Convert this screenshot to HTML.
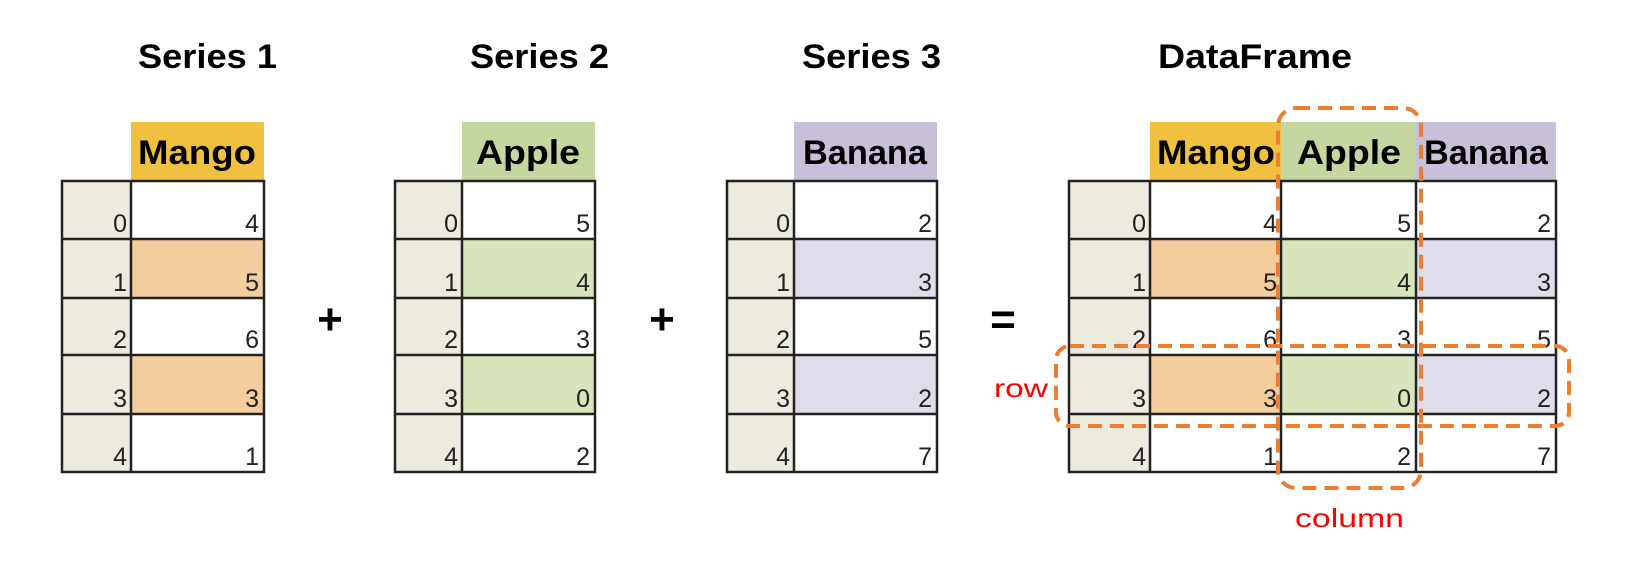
<!DOCTYPE html>
<html><head><meta charset="utf-8"><style>
html,body{margin:0;padding:0;background:#fff;width:1628px;height:561px;overflow:hidden}
svg{display:block}
text{font-family:"Liberation Sans",sans-serif}
</style></head><body>
<svg width="1628" height="561" viewBox="0 0 1628 561" xmlns="http://www.w3.org/2000/svg">
<g font-weight="bold" font-size="34" fill="#000">
<text x="138" y="68" textLength="139" lengthAdjust="spacingAndGlyphs">Series 1</text>
<text x="470" y="68" textLength="139" lengthAdjust="spacingAndGlyphs">Series 2</text>
<text x="802" y="68" textLength="139" lengthAdjust="spacingAndGlyphs">Series 3</text>
<text x="1158" y="68" textLength="194" lengthAdjust="spacingAndGlyphs">DataFrame</text>
</g>
<!-- operators -->
<g font-weight="bold" font-size="44" fill="#000" text-anchor="middle">
<text x="330" y="334">+</text>
<text x="662" y="334">+</text>
<text x="1003" y="334">=</text>
</g>

<!-- Series 1 -->
<rect x="131" y="122" width="133" height="59" fill="#f0c040"/>
<rect x="62" y="181" width="69" height="291" fill="#edeae0"/>
<rect x="131" y="239" width="133" height="59" fill="#f3cd9e"/>
<rect x="131" y="355" width="133" height="59" fill="#f3cd9e"/>
<!-- Series 2 -->
<rect x="462" y="122" width="133" height="59" fill="#c5d6a0"/>
<rect x="395" y="181" width="67" height="291" fill="#edeae0"/>
<rect x="462" y="239" width="133" height="59" fill="#d8e4bc"/>
<rect x="462" y="355" width="133" height="59" fill="#d8e4bc"/>
<!-- Series 3 -->
<rect x="794" y="122" width="143" height="59" fill="#c8bfd9"/>
<rect x="727" y="181" width="67" height="291" fill="#edeae0"/>
<rect x="794" y="239" width="143" height="59" fill="#e1dcea"/>
<rect x="794" y="355" width="143" height="59" fill="#e1dcea"/>
<!-- DataFrame -->
<rect x="1150" y="122" width="131" height="59" fill="#f0c040"/>
<rect x="1281" y="122" width="135" height="59" fill="#c5d6a0"/>
<rect x="1416" y="122" width="140" height="59" fill="#c8bfd9"/>
<rect x="1069" y="181" width="81" height="291" fill="#edeae0"/>
<rect x="1150" y="239" width="131" height="59" fill="#f3cd9e"/>
<rect x="1150" y="355" width="131" height="59" fill="#f3cd9e"/>
<rect x="1281" y="239" width="135" height="59" fill="#d8e4bc"/>
<rect x="1281" y="355" width="135" height="59" fill="#d8e4bc"/>
<rect x="1416" y="239" width="140" height="59" fill="#e1dcea"/>
<rect x="1416" y="355" width="140" height="59" fill="#e1dcea"/>

<!-- grid lines -->
<g stroke="#222" stroke-width="2.5" fill="none">
<rect x="62" y="181" width="202" height="291"/>
<line x1="131" y1="181" x2="131" y2="472"/>
<rect x="395" y="181" width="200" height="291"/>
<line x1="462" y1="181" x2="462" y2="472"/>
<rect x="727" y="181" width="210" height="291"/>
<line x1="794" y1="181" x2="794" y2="472"/>
<rect x="1069" y="181" width="487" height="291"/>
<line x1="1150" y1="181" x2="1150" y2="472"/>
<line x1="1281" y1="181" x2="1281" y2="472"/>
<line x1="1416" y1="181" x2="1416" y2="472"/>
<path d="M62 239H264M62 298H264M62 355H264M62 414H264"/>
<path d="M395 239H595M395 298H595M395 355H595M395 414H595"/>
<path d="M727 239H937M727 298H937M727 355H937M727 414H937"/>
<path d="M1069 239H1556M1069 298H1556M1069 355H1556M1069 414H1556"/>
</g>

<!-- headers -->
<g font-weight="bold" font-size="34" fill="#000" text-anchor="middle">
<text x="197" y="164" textLength="118" lengthAdjust="spacingAndGlyphs">Mango</text>
<text x="528" y="164" textLength="104" lengthAdjust="spacingAndGlyphs">Apple</text>
<text x="865" y="164" textLength="124" lengthAdjust="spacingAndGlyphs">Banana</text>
<text x="1216" y="164" textLength="118" lengthAdjust="spacingAndGlyphs">Mango</text>
<text x="1349" y="164" textLength="104" lengthAdjust="spacingAndGlyphs">Apple</text>
<text x="1486" y="164" textLength="124" lengthAdjust="spacingAndGlyphs">Banana</text>
</g>

<!-- numbers -->
<g font-size="25" fill="#222" text-anchor="end">
<text x="127" y="232">0</text><text x="127" y="291">1</text><text x="127" y="348">2</text><text x="127" y="407">3</text><text x="127" y="465">4</text>
<text x="259" y="232">4</text><text x="259" y="291">5</text><text x="259" y="348">6</text><text x="259" y="407">3</text><text x="259" y="465">1</text>

<text x="458" y="232">0</text><text x="458" y="291">1</text><text x="458" y="348">2</text><text x="458" y="407">3</text><text x="458" y="465">4</text>
<text x="590" y="232">5</text><text x="590" y="291">4</text><text x="590" y="348">3</text><text x="590" y="407">0</text><text x="590" y="465">2</text>

<text x="790" y="232">0</text><text x="790" y="291">1</text><text x="790" y="348">2</text><text x="790" y="407">3</text><text x="790" y="465">4</text>
<text x="932" y="232">2</text><text x="932" y="291">3</text><text x="932" y="348">5</text><text x="932" y="407">2</text><text x="932" y="465">7</text>

<text x="1146" y="232">0</text><text x="1146" y="291">1</text><text x="1146" y="348">2</text><text x="1146" y="407">3</text><text x="1146" y="465">4</text>
<text x="1277" y="232">4</text><text x="1277" y="291">5</text><text x="1277" y="348">6</text><text x="1277" y="407">3</text><text x="1277" y="465">1</text>
<text x="1411" y="232">5</text><text x="1411" y="291">4</text><text x="1411" y="348">3</text><text x="1411" y="407">0</text><text x="1411" y="465">2</text>
<text x="1551" y="232">2</text><text x="1551" y="291">3</text><text x="1551" y="348">5</text><text x="1551" y="407">2</text><text x="1551" y="465">7</text>
</g>

<!-- dashed highlight boxes -->
<g stroke="#ed7d31" stroke-width="4" fill="none" stroke-dasharray="14 8">
<rect x="1278" y="108" width="143" height="380" rx="18"/>
<rect x="1056" y="346" width="513" height="80" rx="14"/>
</g>
<g fill="#f00" font-size="26">
<text x="994" y="397" textLength="54" lengthAdjust="spacingAndGlyphs">row</text>
<text x="1295" y="527" textLength="109" lengthAdjust="spacingAndGlyphs">column</text>
</g>
</svg>
</body></html>
